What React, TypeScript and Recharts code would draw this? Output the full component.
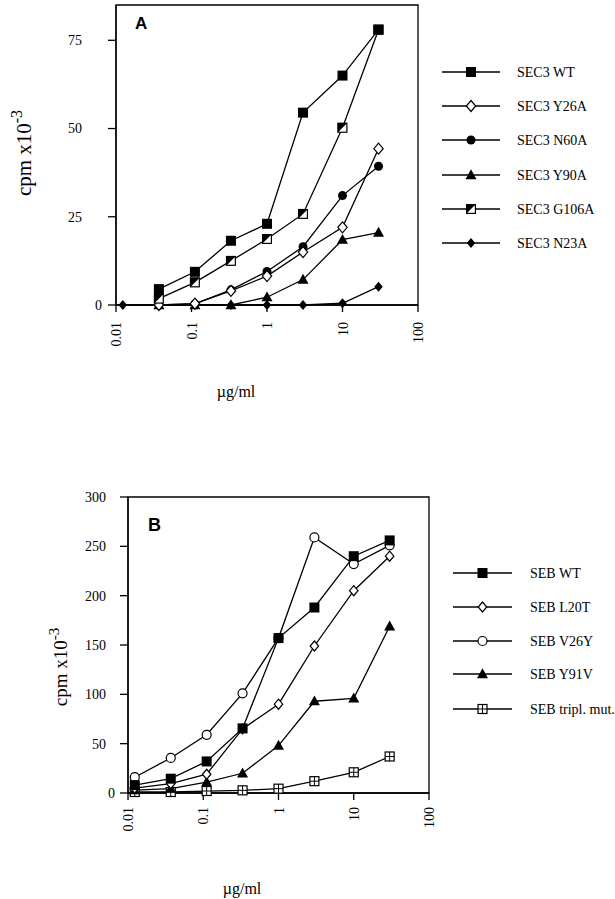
import { LineChart, Line, XAxis, YAxis, ReferenceArea } from 'recharts';

// doses (µg/ml), 3-fold dilution series
const doses = [0.0123, 0.037, 0.111, 0.333, 1, 3, 10, 30];
const xTicks = [0.01, 0.1, 1, 10, 100];

// panel A, cpm x10^-3
const sec3WT = [null, 4.5, 9.4, 18.2, 23, 54.5, 65, 78];
const sec3Y26A = [null, 0, 0.4, 4, 8.2, 15, 22, 44.3];
const sec3N60A = [null, 0, 0.3, 4.3, 9.5, 16.5, 31, 39.3];
const sec3Y90A = [null, 0, 0, 0, 2.2, 7.2, 18.5, 20.5];
const sec3G106A = [null, 1.8, 6.4, 12.5, 18.7, 25.8, 50.2, 78];
const sec3N23A = [0, 0, 0, 0, 0, 0, 0.5, 5.2];
const aTicks = [0, 25, 50, 75];

// panel B, cpm x10^-3
const sebWT = [8, 14.5, 32, 65.5, 157, 188, 240, 256];
const sebL20T = [5, 9.5, 19, 65, 90, 149, 205, 240];
const sebV26Y = [16, 35.5, 59, 101, 157, 259, 232, 251];
const sebY91V = [3, 4.5, 11, 20, 48, 93, 96, 169];
const sebTripl = [1, 1, 2, 2.7, 4.4, 12, 21, 37];
const bTicks = [0, 50, 100, 150, 200, 250, 300];

const SERIF = '"Liberation Serif", "Times New Roman", serif';

type Shape =
  | 'squareFilled'
  | 'squareHalf'
  | 'squarePlus'
  | 'diamondOpen'
  | 'diamondFilled'
  | 'circleFilled'
  | 'circleOpen'
  | 'triangleFilled';

interface Series {
  key: string;
  name: string;
  values: (number | null)[];
  shape: Shape;
  size: number;
}

const seriesA: Series[] = [
  { key: 'wt', name: 'SEC3 WT', values: sec3WT, shape: 'squareFilled', size: 10 },
  { key: 'y26a', name: 'SEC3 Y26A', values: sec3Y26A, shape: 'diamondOpen', size: 11 },
  { key: 'n60a', name: 'SEC3 N60A', values: sec3N60A, shape: 'circleFilled', size: 9 },
  { key: 'y90a', name: 'SEC3 Y90A', values: sec3Y90A, shape: 'triangleFilled', size: 11 },
  { key: 'g106a', name: 'SEC3 G106A', values: sec3G106A, shape: 'squareHalf', size: 10 },
  { key: 'n23a', name: 'SEC3 N23A', values: sec3N23A, shape: 'diamondFilled', size: 10 },
];
const drawOrderA = ['n23a', 'y90a', 'n60a', 'y26a', 'g106a', 'wt'];

const seriesB: Series[] = [
  { key: 'wt', name: 'SEB WT', values: sebWT, shape: 'squareFilled', size: 10 },
  { key: 'l20t', name: 'SEB L20T', values: sebL20T, shape: 'diamondOpen', size: 10 },
  { key: 'v26y', name: 'SEB V26Y', values: sebV26Y, shape: 'circleOpen', size: 10 },
  { key: 'y91v', name: 'SEB Y91V', values: sebY91V, shape: 'triangleFilled', size: 11 },
  { key: 'tripl', name: 'SEB tripl. mut.', values: sebTripl, shape: 'squarePlus', size: 9 },
];
const drawOrderB = ['tripl', 'y91v', 'l20t', 'v26y', 'wt'];

function marker(shape: Shape, cx: number, cy: number, s: number, key?: string) {
  const h = s / 2;
  const sw = 1.2;
  switch (shape) {
    case 'squareFilled':
      return <rect key={key} x={cx - h} y={cy - h} width={s} height={s} fill="#000" />;
    case 'squareHalf':
      return (
        <g key={key}>
          <rect x={cx - h + 0.6} y={cy - h + 0.6} width={s - 1.2} height={s - 1.2} fill="#fff" stroke="#000" strokeWidth={sw} />
          <polygon points={`${cx - h},${cy - h} ${cx + h},${cy - h} ${cx - h},${cy + h}`} fill="#000" />
        </g>
      );
    case 'squarePlus':
      return (
        <g key={key}>
          <rect x={cx - h} y={cy - h} width={s} height={s} fill="#fff" stroke="#000" strokeWidth={sw} />
          <line x1={cx} y1={cy - h} x2={cx} y2={cy + h} stroke="#000" strokeWidth={1} />
          <line x1={cx - h} y1={cy} x2={cx + h} y2={cy} stroke="#000" strokeWidth={1} />
        </g>
      );
    case 'diamondOpen':
      return (
        <polygon key={key} points={`${cx},${cy - h} ${cx + h * 0.85},${cy} ${cx},${cy + h} ${cx - h * 0.85},${cy}`} fill="#fff" stroke="#000" strokeWidth={sw} />
      );
    case 'diamondFilled':
      return (
        <polygon key={key} points={`${cx},${cy - h} ${cx + h * 0.85},${cy} ${cx},${cy + h} ${cx - h * 0.85},${cy}`} fill="#000" />
      );
    case 'circleFilled':
      return <circle key={key} cx={cx} cy={cy} r={h} fill="#000" />;
    case 'circleOpen':
      return <circle key={key} cx={cx} cy={cy} r={h - 0.5} fill="#fff" stroke="#000" strokeWidth={sw} />;
    case 'triangleFilled':
    default:
      return (
        <polygon key={key} points={`${cx},${cy - h * 1.05} ${cx + h},${cy + h * 0.75} ${cx - h},${cy + h * 0.75}`} fill="#000" />
      );
  }
}

function makeDot(s: Series) {
  return (props: any) => {
    const { cx, cy, index, value } = props;
    const k = `${s.key}-${index}`;
    if (value == null || cx == null || cy == null) return <g key={k} />;
    return marker(s.shape, cx, cy, s.size, k);
  };
}

function XTick(props: any) {
  const { x, y, payload } = props;
  return (
    <text
      transform={`translate(${x + 5},${y}) rotate(-90)`}
      textAnchor="end"
      fontSize={14}
      fontFamily={SERIF}
      fill="#000"
    >
      {String(payload.value)}
    </text>
  );
}

function makeYTick(shiftOther: number, shiftZero: number) {
  return (props: any) => {
    const { x, y, payload } = props;
    const dx = payload.value === 0 ? shiftZero : shiftOther;
    return (
      <text x={x + dx} y={y} dy="0.35em" textAnchor="end" fontSize={14} fontFamily={SERIF} fill="#000">
        {payload.value}
      </text>
    );
  };
}

interface PanelProps {
  series: Series[];
  drawOrder: string[];
  yTicks: number[];
  yMax: number;
  top: number;
  height: number;
  margin: { top: number; right: number; bottom: number; left: number };
  xTickMargin: number;
  yShift: [number, number];
}

function Panel({ series, drawOrder, yTicks, yMax, top, height, margin, xTickMargin, yShift }: PanelProps) {
  const data = doses.map((d, i) => {
    const row: Record<string, number | null> = { dose: d };
    series.forEach((s) => {
      row[s.key] = s.values[i];
    });
    return row;
  });
  const ordered = drawOrder.map((k) => series.find((s) => s.key === k)!);
  return (
    <div style={{ position: 'absolute', left: 0, top }}>
      <LineChart width={615} height={height} data={data} margin={margin}>
        <XAxis
          dataKey="dose"
          type="number"
          scale="log"
          domain={[0.01, 100]}
          ticks={xTicks}
          height={50}
          stroke="#000"
          strokeWidth={1.3}
          tickSize={7}
          tickMargin={xTickMargin}
          tick={XTick}
        />
        <YAxis
          type="number"
          domain={[0, yMax]}
          ticks={yTicks}
          width={60}
          stroke="#000"
          strokeWidth={1.3}
          tickSize={8}
          tickMargin={0}
          tick={makeYTick(yShift[0], yShift[1])}
        />
        <ReferenceArea x1={0.01} x2={100} y1={0} y2={yMax} fill="none" stroke="#000" strokeWidth={1.3} />
        {ordered.map((s) => (
          <Line
            key={s.key}
            dataKey={s.key}
            type="linear"
            stroke="#000"
            strokeWidth={1.3}
            dot={makeDot(s)}
            activeDot={false}
            connectNulls
            isAnimationActive={false}
          />
        ))}
      </LineChart>
    </div>
  );
}

function LegendBox({ series, x1, x2, tx, rows }: { series: Series[]; x1: number; x2: number; tx: number; rows: number[] }) {
  return (
    <g>
      {series.map((s, i) => {
        const y = rows[i];
        const mx = (x1 + x2) / 2;
        return (
          <g key={s.key}>
            <line x1={x1} y1={y} x2={x2} y2={y} stroke="#000" strokeWidth={1.3} />
            {marker(s.shape, mx, y, s.size)}
            <text x={tx} y={y} dy="0.35em" fontSize={14} fontFamily={SERIF} fill="#000">
              {s.name}
            </text>
          </g>
        );
      })}
    </g>
  );
}

export default function App() {
  return (
    <div style={{ position: 'absolute', left: 0, top: 0, width: 615, height: 899, background: '#fff' }}>
      <Panel
        series={seriesA}
        drawOrder={drawOrderA}
        yTicks={aTicks}
        yMax={85}
        top={0}
        height={420}
        margin={{ top: 5, right: 197, bottom: 65, left: 56 }}
        xTickMargin={10}
        yShift={[-26, -6]}
      />
      <Panel
        series={seriesB}
        drawOrder={drawOrderB}
        yTicks={bTicks}
        yMax={300}
        top={440}
        height={440}
        margin={{ top: 57, right: 186, bottom: 37, left: 68 }}
        xTickMargin={7}
        yShift={[-14, -5]}
      />
      <svg width={615} height={899} style={{ position: 'absolute', left: 0, top: 0, pointerEvents: 'none' }}>
        <text x={135} y={29} fontSize={17} fontWeight="bold" fontFamily='"Liberation Sans", Arial, sans-serif'>A</text>
        <text x={148} y={531} fontSize={18} fontWeight="bold" fontFamily='"Liberation Sans", Arial, sans-serif'>B</text>
        <text transform="translate(31,153) rotate(-90)" textAnchor="middle" fontSize={21} fontFamily={SERIF}>
          cpm x10<tspan dy={-9} fontSize={16}>-3</tspan>
        </text>
        <text transform="translate(67,667) rotate(-90)" textAnchor="middle" fontSize={19} fontFamily={SERIF}>
          cpm x10<tspan dy={-8} fontSize={15}>-3</tspan>
        </text>
        <text x={236} y={397} textAnchor="middle" fontSize={16} fontFamily={SERIF}>µg/ml</text>
        <text x={242} y={894} textAnchor="middle" fontSize={16} fontFamily={SERIF}>µg/ml</text>
        <LegendBox series={seriesA} x1={442} x2={500} tx={517} rows={[72, 106, 140, 175, 209, 243]} />
        <LegendBox series={seriesB} x1={453} x2={512} tx={530} rows={[573, 607, 641, 674, 709]} />
      </svg>
    </div>
  );
}
